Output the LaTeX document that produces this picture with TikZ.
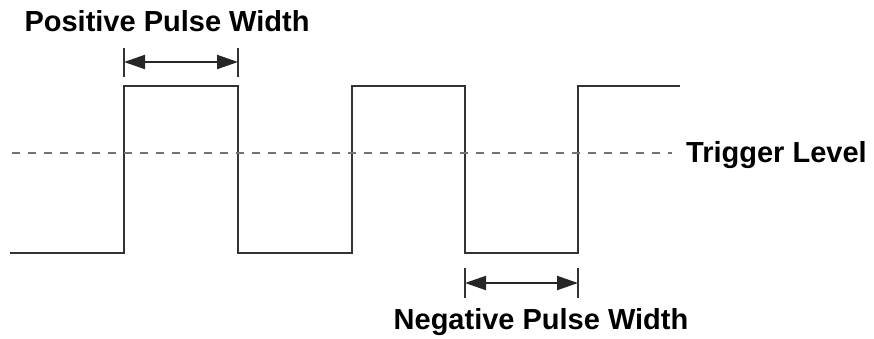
\documentclass[tikz,border=0pt]{standalone}
\usepackage{fontspec}
\setmainfont{Liberation Sans}
\usetikzlibrary{arrows.meta,positioning}

\begin{document}
\begin{tikzpicture}[
  x=1pt, y=-1pt,
  >={Triangle[length=21pt,width=14pt]},
  lbl/.style={font=\fontsize{29}{32}\selectfont\bfseries, inner sep=0pt},
  wave/.style={line width=1.8pt, black!80},
  trig/.style={line width=2.3pt, black!55, dash pattern=on 8pt off 8pt},
  tick/.style={line width=2pt, black!80},
  span/.style={<->, line width=2pt, black!85},
]
  \useasboundingbox (0,0) rectangle (874,338);
  % square wave
  \draw[wave] (10,253) -- (124,253) -- (124,86) -- (238,86) -- (238,253)
    -- (352,253) -- (352,86) -- (465,86) -- (465,253) -- (578,253)
    -- (578,86) -- (680,86);
  % trigger level
  \node[lbl, anchor=west] (trigger) at (686,155) {Trigger Level};
  \coordinate (t0) at (12,153);
  \coordinate (t1) at (672,153);
  \draw[trig] (t0) -- (t1);
  % positive pulse width
  \coordinate (p1) at (124,62);
  \coordinate (p2) at (238,62);
  \draw[tick] (124,48) -- (124,77) (238,48) -- (238,77);
  \draw[span] (p1) -- (p2);
  \node[lbl] (pos) at (167,21) {Positive Pulse Width};
  % negative pulse width
  \coordinate (n1) at (465,283);
  \coordinate (n2) at (578,283);
  \draw[tick] (465,268) -- (465,298) (578,268) -- (578,298);
  \draw[span] (n1) -- (n2);
  \node[lbl] (neg) at (541,322) {Negative Pulse Width};
\end{tikzpicture}
\end{document}
